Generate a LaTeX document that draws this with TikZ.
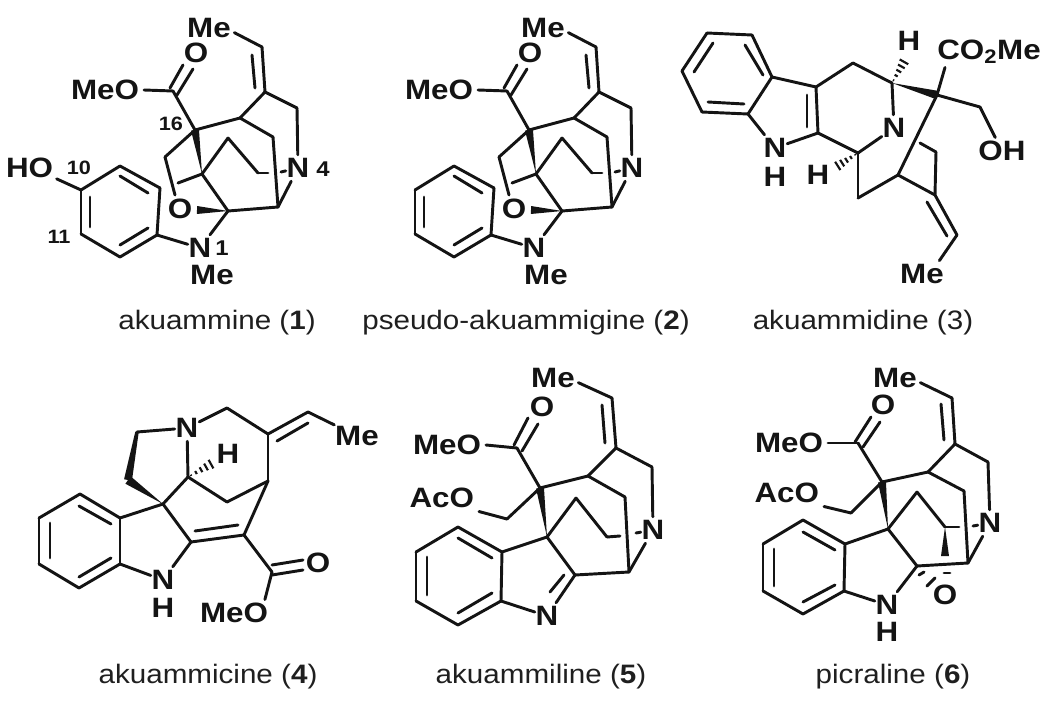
\documentclass[tikz,border=0pt]{standalone}
\usepackage{fontspec}
\setmainfont{Liberation Sans}
\newfontfamily\atomf[FakeStretch=1.12]{Liberation Sans}
\newfontfamily\capf[FakeStretch=1.11]{Liberation Sans}
\usetikzlibrary{calc}
\tikzset{
  bond/.style={line width=2.2pt,line cap=round,line join=round,black!92},
  atom/.style={inner xsep=0.5pt,inner ysep=2.5pt,font=\atomf\fontsize{21}{24}\selectfont\bfseries,text=black!92},
  atomx/.style={atom,inner xsep=3.5pt},
  numlabel/.style={inner sep=0pt,font=\atomf\fontsize{14.5}{15}\selectfont\bfseries,text=black!92},
  numbig/.style={inner sep=0pt,font=\atomf\fontsize{16}{16}\selectfont\bfseries,text=black!92},
  caption/.style={inner sep=0pt,anchor=base,font=\capf\fontsize{20}{25}\selectfont,text=black!88},
}
\newcommand{\Pts}[1]{\foreach \n/\x/\y in {#1}{\coordinate (\n) at (\x,\y);}}
\newcommand{\Bonds}[1]{\foreach \p/\q in {#1}{\draw[bond] (\p) -- (\q);}}
\newcommand{\Wedge}[3]{\fill[black!92,line join=round] (#1) -- ($(#2)!#3!90:(#1)$) -- ($(#2)!#3!-90:(#1)$) -- cycle;}
\newcommand{\Hash}[3]{\foreach \t in {.12,.32,.52,.72,.92}{%
  \pgfmathsetlengthmacro{\hw}{\t*#3}%
  \coordinate (hp) at ($(#1)!\t!(#2)$);
  \draw[black!92,line width=1.6pt] ($(hp)!\hw!90:(#1)$) -- ($(hp)!\hw!-90:(#1)$);}}
\newcommand{\Cage}{%
  \Pts{c1/262/47,c2/265/92,i1/252/55,i2/255/88,c3/297/108,c4/240/118,c16/195/130,
   est/173/91,d1/170/88,d2/183/65,d3/177/95,d4/193/69,c5/273/137,c6/278/207,c7/228/211,
   ctr/202/174,c8/228/138,c9/258/173,c10/268/173,s/281/172,ob/178/183,c11/165/157,c12/175/195,
   ow/197/210,r2/160/188,r3/157/235,r4/120/257,r5/81/234,r6/81/190,r1/120/166,
   j1/120/176,j2/148/193,j3/90/197,j4/90/227,j5/120/245,j6/148/228}
  \node[atom] (mea) at (209,28) {Me};
  \node[atomx,anchor=east] (meo) at (144,90) {MeO};
  \node[atom] (oa) at (196,53) {O};
  \node[atom] (n4) at (298,168) {N};
  \node[atom] (oo) at (180,209) {O};
  \node[atom] (n1) at (200,248) {N};
  \node[atom] (men) at (212,275) {Me};
  \draw[bond] ([xshift=2pt,yshift=-3.5pt]mea.east) -- (c1);
  \Bonds{c1/c2,i1/i2,c2/c3,c3/n4,c2/c4,c4/c16,c16/est,meo.east/est,d1/d2,d3/d4,
    c4/c5,c5/c6,c6/n4,c7/c6,ctr/c8,c8/c9,c9/c10,s/n4,ctr/c7,ctr/ob,c16/c11,c11/c12,
    c7/n1,r1/r2,r2/r3,r3/r4,r4/r5,r5/r6,r6/r1,j1/j2,j3/j4,j5/j6,r3/n1}
  \Wedge{ctr}{c16}{3pt}
  \Wedge{c7}{ow}{3pt}
}
\begin{document}
\begin{tikzpicture}[x=0.75pt,y=-0.75pt]
\useasboundingbox (0,0) rectangle (1050,703);
% 1
\begin{scope}[name prefix=a-]
  \Cage
  \node[atom,anchor=east] (ho) at (54,168) {HO};
  \draw[bond] ([xshift=2pt,yshift=2pt]ho.south east) -- (r6);
  \node[numbig] (l4) at (323,169) {4};
  \node[numbig] (l1) at (222,248) {1};
  \node[numlabel] (l10) at (79,168) {10};
  \node[numlabel] (l11) at (59,237) {11};
  \node[numlabel] (l16) at (171,124) {16};
  \node[caption] (cap1) at (217,329) {akuammine (\textbf{1})};
\end{scope}
% 2
\begin{scope}[name prefix=b-,shift={(334,0)}]
  \Cage
\end{scope}
\node[caption] (cap2) at (526,329) {pseudo-akuammigine (\textbf{2})};
% 3
\begin{scope}[name prefix=c-]
  \Pts{r1/707/33,r2/752/35,r3/772/77,r4/748/114,r5/702/112,r6/682/71,
   j1/713/43,j2/694/72,j3/745/45,j4/763/75,j5/708/102,j6/744/104,
   a/816/87,b/818/133,i1/807/95,i2/807/127,c/858/153,top/853/63,d/892/83,
   q/937/95,ch/980/107,e/898/175,f/858/198,g/935/195,h/936/152,k/920/143,
   m/957/235,i3/927/202,i4/947/236,hd/905/60,hc/836/167}
  \node[atom] (n1) at (775,148) {N};
  \node[atom] (hn) at (775,177) {H};
  \node[atom] (n2) at (894,128) {N};
  \node[atom] (h1) at (909,41) {H};
  \node[atom] (h2) at (818,175) {H};
  \node[atom] (co) at (989,52) {CO\textsubscript{2}Me};
  \node[atom] (oh) at (1002,151) {OH};
  \node[atom] (me) at (922,274) {Me};
  \Bonds{r1/r2,r2/r3,r3/r4,r4/r5,r5/r6,r6/r1,j1/j2,j3/j4,j5/j6,r3/a,a/b,i1/i2,r4/n1,n1/b,
   b/c,c/n2,a/top,top/d,d/n2,ch/oh,q/e,e/f,f/c,e/g,g/h,h/k,g/m,i3/i4,q/ch}
  \draw[bond] (q) -- ([xshift=-33pt]co.south);
  \draw[bond] (m) -- ([xshift=-4pt]me.north east);
  \Wedge{d}{q}{3.2pt}
  \Hash{d}{hd}{4pt}
  \Hash{c}{hc}{4pt}
  \node[caption] (cap3) at (863,329) {akuammidine (3)};
\end{scope}
% 4
\begin{scope}[name prefix=d-]
  \Pts{r1/80/494,r2/120/518,r3/120/564,r4/79/588,r5/39/564,r6/39/518,
   j1/79/506,j2/111/524,j3/50/523,j4/50/558,j5/79/577,j6/111/558,sp/163/504}
  \Pts{a/191/542,b/244/535,i1/195/531,i2/238/525,c/268/481,est/272/572,
   e1/272/565,e2/303/560,e3/272/575,e4/303/570,f/227/502,g/188/477,
   k/268/434,t/227/408,v/308/412,i3/277/441,i4/308/423,w/137/432,x/128/480,hh/213/463}
  \node[atom] (n1) at (163,580) {N};
  \node[atom] (hn) at (163,608) {H};
  \node[atom] (o) at (318,563) {O};
  \node[atom] (mo) at (234,613) {MeO};
  \node[atom] (n2) at (187,428) {N};
  \node[atom] (h) at (228,454) {H};
  \node[atom] (me) at (357,436) {Me};
  \Bonds{r1/r2,r2/r3,r3/r4,r4/r5,r5/r6,r6/r1,j1/j2,j3/j4,j5/j6,r2/sp,r3/n1,a/n1,sp/a,a/b,i1/i2,
    b/c,b/est,e1/e2,e3/e4,c/f,f/g,g/sp,g/n2,c/k,k/t,t/n2,k/v,i3/i4,v/me,w/n2}
  \draw[bond] (est) -- ([xshift=-3pt]mo.north east);
  \fill[black!92] ($(w)!1.3pt!90:(x)$) -- ($(w)!1.3pt!-90:(x)$) -- ($(x)!3pt!90:(w)$) -- ($(x)!3pt!-90:(w)$) -- cycle;
  \Wedge{sp}{x}{3.4pt}
  \Hash{g}{hh}{4pt}
  \node[caption] (cap4) at (208,683) {akuammicine (\textbf{4})};
\end{scope}
% 5
\begin{scope}[name prefix=e-]
  \Pts{c1/612/398,c2/616/448,i1/602/405,i2/605/443,c3/652/467,c4/588/476,c16/540/488,est/517/448,
   d1/514/445,d2/528/418,d3/522/451,d4/538/424,c5/625/497,c6/629/572,c7/575/575,ctr/547/537,
   c8/576/498,c9/607/537,c10/620/536,s/636/533,ch/507/519,
   r1/458/527,r2/502/552,r3/501/601,r4/458/625,r5/416/601,r6/416/552,
   j1/458/538,j2/492/558,j3/427/557,j4/427/595,j5/458/613,j6/492/593,
   k3/564/575,k4/550/592}
  \node[atom] (me) at (553,378) {Me};
  \node[atomx,anchor=east] (mo) at (486,445) {MeO};
  \node[atom] (o) at (542,407) {O};
  \node[atom] (n) at (653,530) {N};
  \node[atomx,anchor=east] (ac) at (479,498) {AcO};
  \node[atom] (nn) at (547,616) {N};
  \draw[bond] ([xshift=2pt,yshift=-3.5pt]me.east) -- (c1);
  \Bonds{c1/c2,i1/i2,c2/c3,c3/n,c2/c4,c4/c16,c16/est,mo.east/est,d1/d2,d3/d4,c4/c5,c5/c6,c6/n,
   c7/c6,ctr/c7,ctr/c8,c8/c9,c9/c10,s/n,ac.south east/ch,ch/c16,r1/r2,r2/r3,r3/r4,r4/r5,r5/r6,r6/r1,
   j1/j2,j3/j4,j5/j6,r2/ctr,r3/nn,c7/nn,k3/k4}
  \Wedge{ctr}{c16}{3pt}
  \node[caption] (cap5) at (541,683) {akuammiline (\textbf{5})};
\end{scope}
% 6
\begin{scope}[name prefix=f-]
  \Pts{c1/952/398,c2/955/444,i1/941/404,i2/944/440,c3/988/462,c4/928/472,c16/882/482,est/858/443,
   d1/855/442,d2/871/417,d3/863/447,d4/880/422,c5/964/491,c6/968/563,c7/917/566,ctr/888/529,
   c8/917/492,c9/945/527,c10/959/527,s/973/526,ch/851/513,wb/945/556,
   r1/803/520,r2/845/544,r3/844/591,r4/803/614,r5/763/591,r6/763/544,
   j1/803/532,j2/835/550,j3/774/549,j4/774/586,j5/803/602,j6/835/585}
  \node[atom] (me) at (895,378) {Me};
  \node[atomx,anchor=east] (mo) at (828,443) {MeO};
  \node[atom] (o) at (883,405) {O};
  \node[atom] (n) at (990,523) {N};
  \node[atomx,anchor=east] (ac) at (824,493) {AcO};
  \node[atom] (nn) at (887,605) {N};
  \node[atom] (hn) at (887,632) {H};
  \node[atom] (ol) at (945,595) {O};
  \draw[bond] ([xshift=2pt,yshift=-3.5pt]me.east) -- (c1);
  \Bonds{c1/c2,i1/i2,c2/c3,c3/n,c2/c4,c4/c16,c16/est,mo.east/est,d1/d2,d3/d4,c4/c5,c5/c6,c6/n,
   c7/c6,ctr/c7,ctr/c8,c8/c9,c9/c10,s/n,ac.south east/ch,ch/c16,r1/r2,r2/r3,r3/r4,r4/r5,r5/r6,r6/r1,
   j1/j2,j3/j4,j5/j6,r2/ctr,r3/nn,c7/nn}
  \Wedge{ctr}{c16}{3pt}
  \Wedge{c9}{wb}{3pt}
  \Pts{u1/919/575,u2/924/572,u3/927/586,u4/935/578,u5/944/573,u6/950/573}
  \Bonds{u1/u2,u3/u4,u5/u6}
  \node[caption] (cap6) at (893,683) {picraline (\textbf{6})};
\end{scope}
\end{tikzpicture}
\end{document}
